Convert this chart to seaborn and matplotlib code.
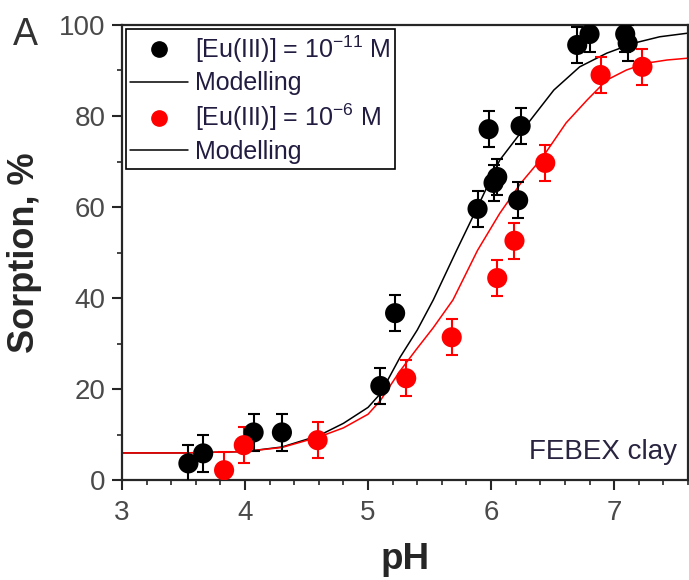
import matplotlib
matplotlib.use("Agg")
import matplotlib.pyplot as plt
import seaborn as sns
import pandas as pd
from matplotlib.ticker import MultipleLocator
from matplotlib.lines import Line2D

# --- data ---
ph_low = [3.54, 3.66, 4.07, 4.30, 5.10, 5.22, 5.89, 5.98, 6.02, 6.05, 6.22, 6.24, 6.70, 6.80, 7.09, 7.11]
sorp_low = [3.7, 5.9, 10.5, 10.5, 20.7, 36.7, 59.6, 77.1, 65.3, 66.6, 61.5, 77.8, 95.6, 98.0, 98.0, 96.0]
err_low = [4, 4, 4, 4, 4, 4, 4, 4, 4, 4, 4, 4, 4, 4, 4, 4]

ph_high = [3.83, 3.99, 4.59, 5.31, 5.68, 6.05, 6.19, 6.44, 6.89, 7.23]
sorp_high = [2.2, 7.7, 8.8, 22.4, 31.4, 44.4, 52.6, 69.7, 89.0, 90.8]
err_high = [4, 4, 4, 4, 4, 4, 4, 4, 4, 4]

model_low_ph = [3.0, 3.5, 4.0, 4.3, 4.6, 4.8, 5.0, 5.1, 5.26, 5.4, 5.53, 5.72, 5.89, 6.07, 6.24, 6.34, 6.51, 6.72, 6.94, 7.16, 7.37, 7.6]
model_low = [6.0, 6.0, 6.3, 7.3, 9.8, 12.5, 16.0, 19.0, 27.0, 33.0, 39.6, 50.5, 60.0, 70.3, 76.3, 79.8, 85.7, 90.8, 93.8, 96.0, 97.4, 98.2]
model_high_ph = [3.0, 3.5, 4.0, 4.3, 4.6, 4.8, 5.0, 5.1, 5.26, 5.4, 5.53, 5.69, 5.89, 6.07, 6.24, 6.42, 6.61, 6.78, 6.94, 7.10, 7.26, 7.43, 7.6]
model_high = [6.0, 6.0, 6.3, 7.2, 9.5, 11.5, 14.5, 17.5, 24.0, 29.0, 33.5, 39.6, 50.5, 58.6, 65.2, 71.0, 78.5, 83.5, 87.9, 90.1, 91.6, 92.3, 92.7]

labels = [r"[Eu(III)] = 10$^{-11}$ M", "Modelling", r"[Eu(III)] = 10$^{-6}$ M", "Modelling"]

sns.set_style("ticks")
plt.rcParams['font.family'] = ['Liberation Sans', 'DejaVu Sans']
plt.rcParams['mathtext.fontset'] = 'custom'
plt.rcParams['mathtext.rm'] = 'Liberation Sans'

fig = plt.figure(figsize=(6.89, 5.8), dpi=100)
ax = fig.add_axes([0.177, 0.172, 0.8215, 0.785])

df_ml = pd.DataFrame({"pH": model_low_ph, "S": model_low})
df_mh = pd.DataFrame({"pH": model_high_ph, "S": model_high})
sns.lineplot(data=df_ml, x="pH", y="S", color="black", lw=1.1, ax=ax, sort=False)
sns.lineplot(data=df_mh, x="pH", y="S", color="red", lw=1.1, ax=ax, sort=False)

ax.errorbar(ph_low, sorp_low, yerr=err_low, fmt="none", ecolor="black", elinewidth=1.5, capsize=4, capthick=1.5, zorder=3)
ax.errorbar(ph_high, sorp_high, yerr=err_high, fmt="none", ecolor="red", elinewidth=1.5, capsize=4, capthick=1.5, zorder=3)

df_l = pd.DataFrame({"pH": ph_low, "S": sorp_low})
df_h = pd.DataFrame({"pH": ph_high, "S": sorp_high})
sns.scatterplot(data=df_l, x="pH", y="S", color="black", s=210, edgecolor="none", ax=ax, zorder=4)
sns.scatterplot(data=df_h, x="pH", y="S", color="red", s=210, edgecolor="none", ax=ax, zorder=4)

ax.set_xlim(3, 7.6)
ax.set_ylim(0, 100)
ax.xaxis.set_major_locator(MultipleLocator(1))
ax.xaxis.set_minor_locator(MultipleLocator(0.2))
ax.yaxis.set_major_locator(MultipleLocator(20))
ax.yaxis.set_minor_locator(MultipleLocator(10))
ax.tick_params(which="major", direction="out", length=7, width=1.5, labelsize=20, labelcolor="#4a4a4a", pad=5)
ax.tick_params(axis="x", which="major", pad=7)
ax.tick_params(which="minor", direction="out", length=3.6, width=1.2)
for s in ax.spines.values():
    s.set_linewidth(1.6)
    s.set_visible(True)

ax.set_xlabel("pH", fontsize=26.5, fontweight="bold", labelpad=12)
ax.set_ylabel("Sorption, %", fontsize=26, fontweight="bold", labelpad=12)

handles = [
    Line2D([], [], marker="o", color="black", ls="none", markersize=11),
    Line2D([], [], color="black", lw=1.1),
    Line2D([], [], marker="o", color="red", ls="none", markersize=11),
    Line2D([], [], color="black", lw=1.1),
]
leg = ax.legend(handles, labels, loc="upper left", bbox_to_anchor=(0.0, 1.0), fontsize=18,
                frameon=True, fancybox=False, edgecolor="black", framealpha=1,
                handlelength=2.3, handletextpad=0.3, labelspacing=0.27, borderpad=0.18, borderaxespad=0.15)
leg.get_frame().set_linewidth(1.2)
for t in leg.get_texts():
    t.set_color("#221c40")

ax.text(0.981, 0.033, "FEBEX clay", transform=ax.transAxes, ha="right", va="bottom", fontsize=20, color="#2a2440")
fig.text(0.019, 0.922, "A", fontsize=27, color="#333333")

fig.savefig("out.png", dpi=100)
